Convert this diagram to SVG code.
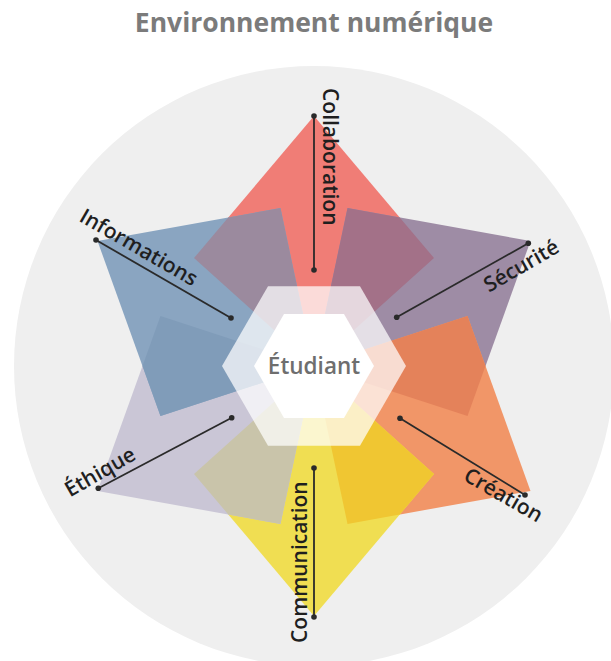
<svg xmlns="http://www.w3.org/2000/svg" xmlns:xlink="http://www.w3.org/1999/xlink" width="611" height="661" viewBox="0 0 611 661">
  <style>
    .title { font-family: "Open Sans", "Liberation Sans", sans-serif; font-weight: 700; font-size: 26.5px; fill: #7b7b7b; }
    .center { font-family: "Open Sans", "Liberation Sans", sans-serif; font-weight: 600; font-size: 22.5px; fill: #6e6e6e; }
    .label { font-family: "Open Sans", "Liberation Sans", sans-serif; font-weight: 600; font-size: 21px; fill: #1f1f1f; }
    .leader { stroke: #2a2a2a; stroke-width: 1.8; fill: none; }
    .dot { fill: #2a2a2a; }
  </style>
  <defs>
    <polygon id="kite" points="0,0 120,-108 0,-250 -120,-108"/>
    <polygon id="ov" points="0,0 120,-108 85.7,-148.5 33.5,-157.9"/>
  </defs>

  <rect width="611" height="661" fill="#ffffff"/>
  <circle cx="314" cy="366" r="300" fill="#efefef"/>

  <text class="title" x="314" y="32" text-anchor="middle">Environnement numérique</text>

  <g id="collaboration">
    <use xlink:href="#kite" href="#kite" transform="translate(314,366)" fill="#f07d76"/>
    <text class="label" transform="translate(322.5,88) rotate(90)">Collaboration</text>
  </g>
  <g id="securite">
    <use xlink:href="#kite" href="#kite" transform="translate(314,366) rotate(60)" fill="#9e8ca5"/>
    <text class="label" text-anchor="end" transform="translate(560.7,251.3) rotate(-30)">Sécurité</text>
  </g>
  <g id="creation">
    <use xlink:href="#kite" href="#kite" transform="translate(314,366) rotate(120)" fill="#f19668"/>
    <text class="label" text-anchor="end" transform="translate(537.5,523) rotate(30)">Création</text>
  </g>
  <g id="communication">
    <use xlink:href="#kite" href="#kite" transform="translate(314,366) rotate(180)" fill="#f0de52"/>
    <text class="label" transform="translate(306.5,643) rotate(-90)">Communication</text>
  </g>
  <g id="ethique">
    <use xlink:href="#kite" href="#kite" transform="translate(314,366) rotate(240)" fill="#cac6d6"/>
    <text class="label" transform="translate(70,497.5) rotate(-30)">Éthique</text>
  </g>
  <g id="informations">
    <use xlink:href="#kite" href="#kite" transform="translate(314,366) rotate(300)" fill="#8aa5c1"/>
    <text class="label" transform="translate(78,220.5) rotate(30)">Informations</text>
  </g>

  <g id="overlaps">
    <use xlink:href="#ov" href="#ov" transform="translate(314,366)" fill="#a37188"/>
    <use xlink:href="#ov" href="#ov" transform="translate(314,366) rotate(60)" fill="#e4825a"/>
    <use xlink:href="#ov" href="#ov" transform="translate(314,366) rotate(120)" fill="#f0c632"/>
    <use xlink:href="#ov" href="#ov" transform="translate(314,366) rotate(180)" fill="#c9c4aa"/>
    <use xlink:href="#ov" href="#ov" transform="translate(314,366) rotate(240)" fill="#809cb9"/>
    <use xlink:href="#ov" href="#ov" transform="translate(314,366) rotate(300)" fill="#9b8a9e"/>
  </g>

  <g id="etudiant">
    <polygon points="406,366 360,286.3 268,286.3 222,366 268,445.7 360,445.7" fill="#ffffff" fill-opacity="0.72"/>
    <polygon points="374,366 344,314 284,314 254,366 284,418 344,418" fill="#ffffff"/>
    <text class="center" x="314" y="373.5" text-anchor="middle">Étudiant</text>
  </g>

  <g id="connectors">
    <line class="leader" x1="314" y1="116" x2="314" y2="270"/>
    <circle class="dot" cx="314" cy="116" r="2.8"/><circle class="dot" cx="314" cy="270" r="2.8"/>
    <line class="leader" x1="528.3" y1="243.3" x2="396.7" y2="317.3"/>
    <circle class="dot" cx="528.3" cy="243.3" r="2.8"/><circle class="dot" cx="396.7" cy="317.3" r="2.8"/>
    <line class="leader" x1="525" y1="495" x2="400" y2="418.3"/>
    <circle class="dot" cx="525" cy="495" r="2.8"/><circle class="dot" cx="400" cy="418.3" r="2.8"/>
    <line class="leader" x1="314" y1="617" x2="314" y2="468"/>
    <circle class="dot" cx="314" cy="617" r="2.8"/><circle class="dot" cx="314" cy="468" r="2.8"/>
    <line class="leader" x1="98.3" y1="488.3" x2="231.7" y2="417.7"/>
    <circle class="dot" cx="98.3" cy="488.3" r="2.8"/><circle class="dot" cx="231.7" cy="417.7" r="2.8"/>
    <line class="leader" x1="96" y1="240" x2="231" y2="318"/>
    <circle class="dot" cx="96" cy="240" r="2.8"/><circle class="dot" cx="231" cy="318" r="2.8"/>
  </g>
</svg>
